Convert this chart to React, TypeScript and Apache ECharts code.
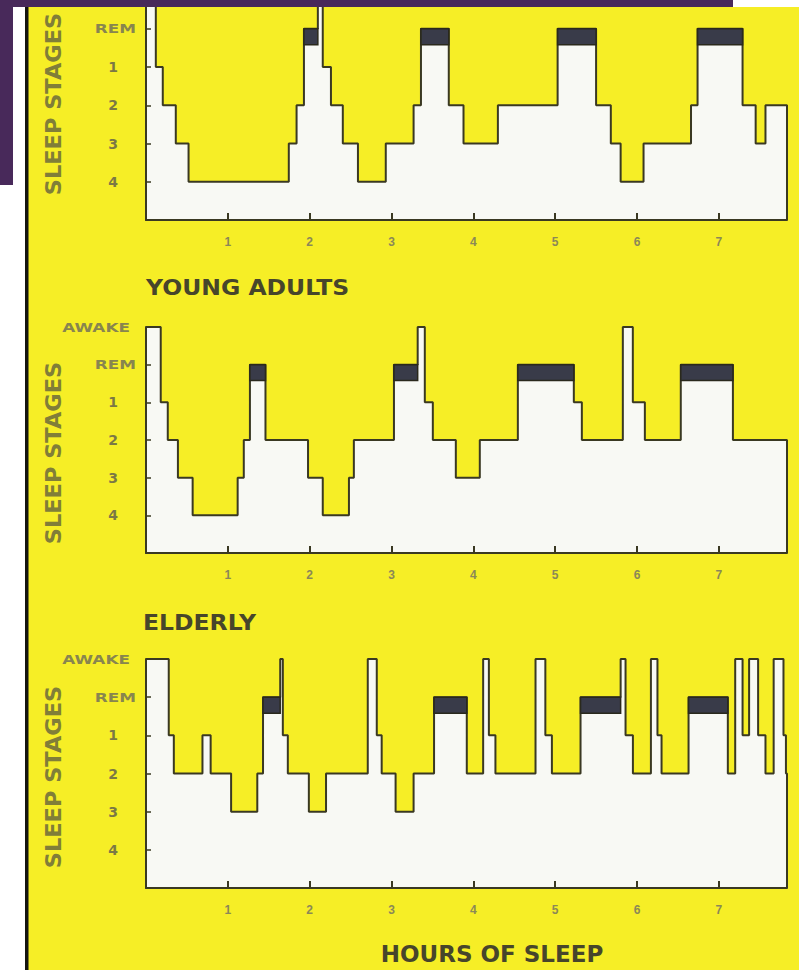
import React, { useEffect, useRef } from 'react';
import * as echarts from 'echarts';

// ---- data -------------------------------------------------------------
const STAGE_LEVEL: Record<string, number> = { AWAKE: 6, REM: 5, '1': 4, '2': 3, '3': 2, '4': 1 };
const Y_TICK_LABELS = ['', '4', '3', '2', '1', 'REM', 'AWAKE'];
const X_TICK_LABELS = ['1', '2', '3', '4', '5', '6', '7'];
const PANEL_TITLES = ['', 'YOUNG ADULTS', 'ELDERLY'];
const AXIS_TITLE_Y = 'SLEEP STAGES';
const AXIS_TITLE_X = 'HOURS OF SLEEP';
const HOURS_MAX = 7.833;

// boundaries (hours) – stage i holds from times[i] to times[i+1]
const childTimes = [0, 0.12, 0.205, 0.364, 0.52, 1.745, 1.84, 1.93, 2.1, 2.16, 2.26, 2.405, 2.59, 2.93, 3.27, 3.36, 3.7, 3.88, 4.3, 5.03, 5.5, 5.68, 5.8, 6.08, 6.66, 6.74, 7.29, 7.45, 7.57, 7.833];
const childStages = ['AWAKE', '1', '2', '3', '4', '3', '2', 'REM', 'AWAKE', '1', '2', '3', '4', '3', '2', 'REM', '2', '3', '2', 'REM', '2', '3', '4', '3', '2', 'REM', '2', '3', '2'];

const youngTimes = [0, 0.18, 0.266, 0.39, 0.57, 1.12, 1.195, 1.27, 1.46, 1.98, 2.16, 2.48, 2.54, 3.03, 3.32, 3.407, 3.505, 3.786, 4.079, 4.544, 5.228, 5.326, 5.827, 5.949, 6.096, 6.535, 7.172, 7.833];
const youngStages = ['AWAKE', '1', '2', '3', '4', '3', '2', 'REM', '2', '3', '4', '3', '2', 'REM', 'AWAKE', '1', '2', '3', '2', 'REM', '1', '2', 'AWAKE', '1', '2', 'REM', '2'];

const elderlyTimes = [0, 0.278, 0.34, 0.69, 0.79, 1.04, 1.36, 1.43, 1.64, 1.672, 1.733, 1.99, 2.2, 2.71, 2.82, 2.88, 3.05, 3.27, 3.52, 3.92, 4.12, 4.19, 4.27, 4.76, 4.88, 4.96, 5.31, 5.8, 5.86, 5.95, 6.17, 6.25, 6.3, 6.63, 7.11, 7.2, 7.29, 7.37, 7.48, 7.57, 7.67, 7.79, 7.82, 7.833];
const elderlyStages = ['AWAKE', '1', '2', '1', '2', '3', '2', 'REM', 'AWAKE', '1', '2', '3', '2', 'AWAKE', '1', '2', '3', '2', 'REM', '2', 'AWAKE', '1', '2', 'AWAKE', '1', '2', 'REM', 'AWAKE', '1', '2', 'AWAKE', '1', '2', 'REM', '2', 'AWAKE', '1', 'AWAKE', '1', '2', 'AWAKE', '1', '2'];

const PANELS = [
  { times: childTimes, stages: childStages },
  { times: youngTimes, stages: youngStages },
  { times: elderlyTimes, stages: elderlyStages },
];

// ---- styling ----------------------------------------------------------
const YELLOW = '#f6ee26';
const INK = '#3a3922';
const FILL = '#f8f9f4';
const REM_FILL = '#393b49';
const PURPLE = '#48295a';

// top panel is cropped in the picture: its visible range stops just under AWAKE
const GRIDS = [
  { left: 146, top: 0, width: 641, height: 220, yMax: 5.752 },
  { left: 146, top: 327, width: 641, height: 226, yMax: 6 },
  { left: 146, top: 659, width: 641, height: 229, yMax: 6 },
];

function stepData(times: number[], stages: string[]) {
  const d: number[][] = stages.map((s, i) => [times[i], STAGE_LEVEL[s]]);
  d.push([times[times.length - 1], 0]);
  return d;
}

function remData(times: number[], stages: string[]) {
  const r: number[][] = [];
  stages.forEach((s, i) => {
    if (s === 'REM') r.push([times[i], times[i + 1]]);
  });
  return r;
}

export default function App() {
  const ref = useRef<HTMLDivElement>(null);

  useEffect(() => {
    if (!ref.current) return;
    const chart = echarts.init(ref.current, null, { renderer: 'svg' });

    const xAxis = GRIDS.map((_, i) => ({
      type: 'value',
      gridIndex: i,
      min: 0,
      max: HOURS_MAX,
      interval: 1,
      z: 5,
      axisLine: { show: true, onZero: false, lineStyle: { color: INK, width: 2 } },
      axisTick: { show: true, inside: true, length: 7, lineStyle: { color: INK, width: 2 } },
      axisLabel: {
        show: true,
        margin: 16,
        fontSize: 12,
        fontWeight: 'bold',
        fontFamily: 'Liberation Sans',
        color: '#8b8857',
        showMinLabel: false,
        showMaxLabel: false,
        formatter: (v: number) => (Number.isInteger(v) && v >= 1 && v <= 7 ? X_TICK_LABELS[v - 1] : ''),
      },
      splitLine: { show: false },
    }));

    const yAxis = GRIDS.map((g, i) => ({
      type: 'value',
      gridIndex: i,
      min: 0,
      max: g.yMax,
      interval: 1,
      z: 5,
      axisLine: { show: true, onZero: false, lineStyle: { color: INK, width: 2 } },
      axisTick: { show: true, inside: true, length: 5, lineStyle: { color: INK, width: 1.5 } },
      axisLabel: { show: false },
      splitLine: { show: false },
    }));

    const series: any[] = [];
    PANELS.forEach((p, i) => {
      series.push({
        type: 'line',
        xAxisIndex: i,
        yAxisIndex: i,
        step: 'end',
        symbol: 'none',
        data: stepData(p.times, p.stages),
        lineStyle: { color: INK, width: 2 },
        areaStyle: { color: FILL, opacity: 1, origin: 'start' },
        z: 2,
      });
      series.push({
        type: 'custom',
        coordinateSystem: 'cartesian2d',
        xAxisIndex: i,
        yAxisIndex: i,
        data: remData(p.times, p.stages),
        z: 3,
        renderItem: (_params: any, api: any) => {
          const a = api.coord([api.value(0), 5]);
          const b = api.coord([api.value(1), 4.58]);
          return {
            type: 'rect',
            shape: { x: a[0], y: a[1], width: b[0] - a[0], height: b[1] - a[1] },
            style: { fill: REM_FILL, stroke: '#2a291c', lineWidth: 1.5 },
          };
        },
      });
    });

    chart.setOption({
      animation: false,
      backgroundColor: YELLOW,
      grid: GRIDS.map((g) => ({ left: g.left, top: g.top, width: g.width, height: g.height, containLabel: false })),
      xAxis,
      yAxis,
      series,
    });

    // stage labels placed through the axes' own scale
    const yLabels: any[] = [];
    GRIDS.forEach((g, i) => {
      Y_TICK_LABELS.forEach((lab, level) => {
        if (!lab || level > g.yMax) return;
        const pt = chart.convertToPixel({ xAxisIndex: i, yAxisIndex: i } as any, [0, level]) as number[];
        if (!pt || pt[1] < 8) return;
        const isWord = lab === 'AWAKE' || lab === 'REM';
        const rightEdge = lab === 'AWAKE' ? pt[0] - 16 : pt[0] - 10;
        yLabels.push(
          isWord
            ? {
                type: 'text',
                x: rightEdge,
                y: pt[1],
                scaleX: 1.35,
                style: { text: lab, fontFamily: 'DejaVu Sans', fontWeight: 'bold', fontSize: 12.5, fill: '#88854f', textAlign: 'right', textVerticalAlign: 'middle' },
              }
            : {
                type: 'text',
                x: pt[0] - 33,
                y: pt[1],
                style: { text: lab, fontFamily: 'DejaVu Sans', fontWeight: 'bold', fontSize: 14, fill: '#7b7845', textAlign: 'center', textVerticalAlign: 'middle' },
              }
        );
      });
    });

    const titleStyle = { fontFamily: 'DejaVu Sans', fontWeight: 'bold', fill: '#47452b' };

    const graphic: any[] = [
      ...yLabels,
      // panel titles
      { type: 'text', x: 146, y: 287, scaleX: 1.12, style: { ...titleStyle, text: PANEL_TITLES[1], fontSize: 21, textVerticalAlign: 'middle' } },
      { type: 'text', x: 143, y: 622, scaleX: 1.12, style: { ...titleStyle, text: PANEL_TITLES[2], fontSize: 21, textVerticalAlign: 'middle' } },
      // x axis title
      { type: 'text', x: 492, y: 954, style: { ...titleStyle, text: AXIS_TITLE_X, fontSize: 23, textAlign: 'center', textVerticalAlign: 'middle' } },
      // y axis titles
      ...[104, 453, 777].map((cy) => ({
        type: 'text',
        x: 54,
        y: cy,
        rotation: Math.PI / 2,
        scaleX: 1.07,
        style: { fontFamily: 'DejaVu Sans', fontWeight: 'bold', fill: '#817e38', text: AXIS_TITLE_Y, fontSize: 21, textAlign: 'center', textVerticalAlign: 'middle' },
      })),
      // frame pieces
      { type: 'rect', z: 100, shape: { x: 0, y: 0, width: 25, height: 970 }, style: { fill: '#ffffff' } },
      { type: 'rect', z: 100, shape: { x: 733, y: 0, width: 66, height: 7 }, style: { fill: '#ffffff' } },
      { type: 'rect', z: 101, shape: { x: 0, y: 0, width: 733, height: 7 }, style: { fill: PURPLE } },
      { type: 'rect', z: 101, shape: { x: 0, y: 0, width: 13, height: 185 }, style: { fill: PURPLE } },
      { type: 'rect', z: 101, shape: { x: 25, y: 7, width: 3.5, height: 963 }, style: { fill: '#151510' } },
    ];

    chart.setOption({ graphic });

    return () => chart.dispose();
  }, []);

  return <div ref={ref} style={{ position: 'absolute', left: 0, top: 0, width: 799, height: 970 }} />;
}
